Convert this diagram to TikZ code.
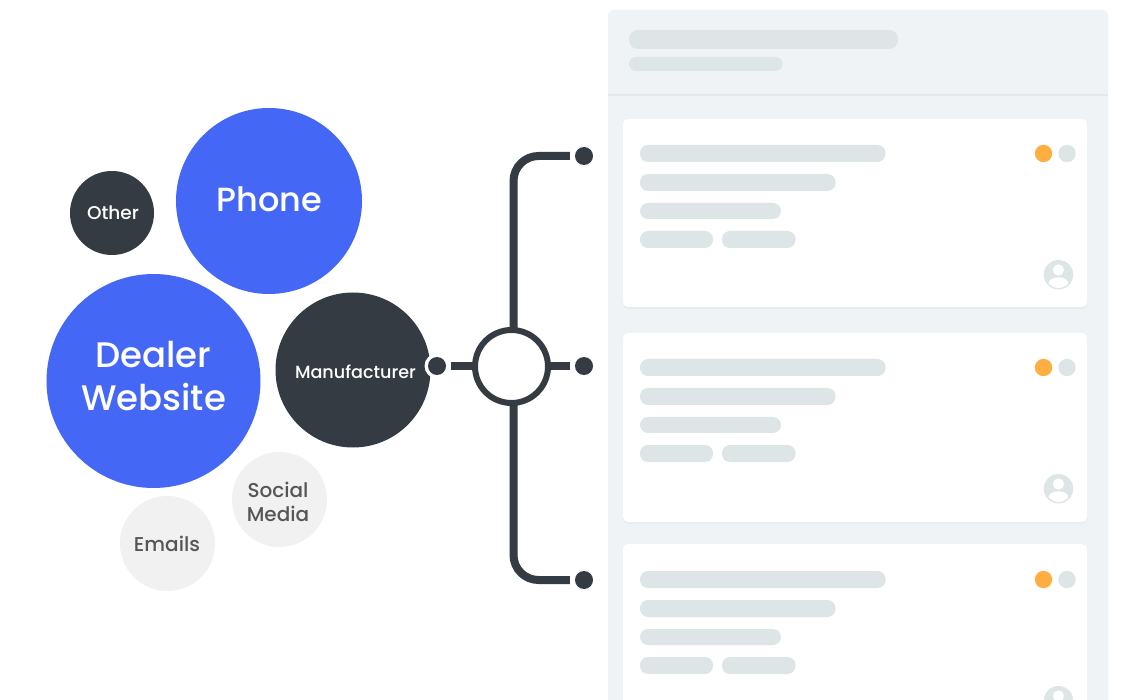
\documentclass[tikz,border=0pt]{standalone}
\usepackage{fontspec}
\setmainfont{Poppins Medium}
\definecolor{blueB}{HTML}{4567F5}
\definecolor{darkB}{HTML}{353B43}
\definecolor{lightB}{HTML}{F1F1F1}
\definecolor{greyT}{HTML}{565656}
\definecolor{panelC}{HTML}{EFF3F6}
\definecolor{ruleC}{HTML}{E3E8EE}
\definecolor{barC}{HTML}{DEE5E6}
\definecolor{orangeC}{HTML}{FFAE42}
\definecolor{rimC}{HTML}{E8ECEF}
\tikzset{
  bubble/.style={circle,inner sep=0pt,minimum size=#1},
  bubtext/.style 2 args={inner sep=0pt,align=center,font=\fontsize{#1}{#2}\selectfont},
  enddot/.style={circle,fill=darkB,inner sep=0pt,minimum size=18pt},
  link/.style={draw=darkB,line width=8pt},
  bar/.style={fill=barC,rounded corners=#1},
  bar/.default=8pt
}
% #1 card top, #2 card height, #3 y origin of the card's contents
\newcommand{\cardrow}[3]{%
  \fill[rimC,rounded corners=5pt] (623,#1+1) rectangle (1087,#1+#2+2);
  \fill[white,rounded corners=5pt] (623,#1) rectangle (1087,#1+#2);
  \fill[bar] (640,#3+26) rectangle (885.5,#3+43);
  \fill[bar] (640,#3+55) rectangle (835.5,#3+72);
  \fill[bar] (640,#3+84) rectangle (781,#3+100);
  \fill[bar] (640,#3+112) rectangle (713,#3+129);
  \fill[bar] (722,#3+112) rectangle (795.5,#3+129);
  \fill[orangeC] (1043.5,#3+34.5) circle[radius=8.7];
  \fill[barC] (1067,#3+34.5) circle[radius=8.7];
  \begin{scope}
    \fill[barC] (1058.5,#3+155.7) circle[radius=14.7];
    \clip (1058.5,#3+155.7) circle[radius=13.2];
    \fill[white] (1058.5,#3+151) circle[radius=5.6];
    \fill[white] (1058.5,#3+164.5) ellipse[x radius=10,y radius=6.2];
  \end{scope}
}
\begin{document}
\begin{tikzpicture}[x=1pt,y=-1pt]
\path[use as bounding box,clip] (0,0) rectangle (1130,700);
\fill[white] (0,0) rectangle (1130,700);

% panel
\fill[panelC,rounded corners=6pt] (608,10) rectangle (1108,720);
\fill[ruleC] (608,94) rectangle (1108,96);
\fill[bar=9pt] (629,30) rectangle (898,49);
\fill[bar=7pt] (629,57) rectangle (782.5,71);
\cardrow{119}{188}{119}
\cardrow{333}{189}{333}
\cardrow{544}{200}{545}

% bubbles
\node[bubble=186pt,fill=blueB] (phone) at (269,201) {};
\node[bubble=84pt,fill=darkB] (other) at (112,213) {};
\node[bubble=214pt,fill=blueB] (dealer) at (153.5,381) {};
\node[bubble=155pt,fill=darkB] (manu) at (353,370) {};
\node[bubble=95pt,fill=lightB] (social) at (279.5,499.5) {};
\node[bubble=95pt,fill=lightB] (emails) at (167.5,543.5) {};

\node[bubtext={33.5}{40},text=white] (phonet) at (269.5,199) {Phone};
\node[bubtext={18.5}{22},text=white] (othert) at (113,213) {Other};
\node[bubtext={35.5}{43},text=white] (dealert) at (153.5,376.5) {Dealer\\Website};
\node[bubtext={17.6}{21},text=white] (manut) at (355.5,372) {Manufacturer};
\node[bubtext={20}{24},text=greyT] (socialt) at (278,502) {Social\\Media};
\node[bubtext={20}{24},text=greyT] (emailst) at (167,544) {Emails};

% connector ends
\node[circle,fill=white,inner sep=0pt,minimum size=25pt] (ring) at (437,366) {};
\node[enddot] (src) at (ring) {};
\node[enddot] (dtop) at (584,156) {};
\node[enddot] (dmid) at (584,366) {};
\node[enddot] (dbot) at (584,580) {};
\coordinate (hubc) at (511.5,366.5);
\coordinate (hubt) at (513.5,366.5);

% connectors
\draw[link,rounded corners=25pt,shorten >=5pt] (hubt) |- (dtop);
\draw[link,rounded corners=25pt,shorten >=5pt] (hubt) |- (dbot);
\draw[link,shorten >=5pt] (hubc |- dmid) -- (dmid);
\draw[link,shorten >=5pt] (hubc |- src) -- (src);

% hub
\node[circle,draw=darkB,line width=6pt,fill=white,inner sep=0pt,minimum size=73pt] (hub) at (hubc) {};
\end{tikzpicture}
\end{document}
